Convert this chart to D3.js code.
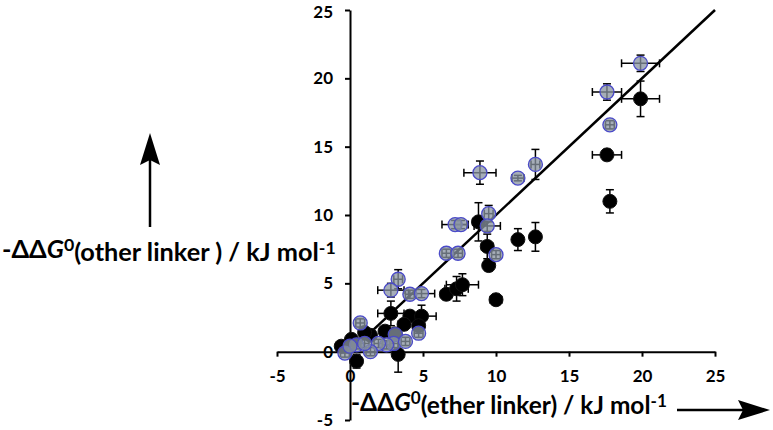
<!DOCTYPE html>
<html>
<head>
<meta charset="utf-8">
<script src="https://cdn.jsdelivr.net/npm/d3@7"></script>
<style>
  body { margin: 0; background: #fff; }
  text { font-family: Lato, "Open Sans", sans-serif; font-weight: bold; fill: #000; }
</style>
</head>
<body>
<svg id="plot" width="773" height="430"></svg>
<script>
// tick values shared by both axes
var ticks = [-5, 0, 5, 10, 15, 20, 25]

// black series: -ddG(ether) vs -ddG(other), with error bars
var blackX    = [19.9, 17.6, 17.8, 11.5, 12.7, 8.8, 9.4, 9.5, 6.6, 7.3, 7.7, 10.0, 2.8, 4.1, 4.9, 3.7, 4.7, 2.4, 1.4, 3.1, 3.3, 0.45, -0.6, 0.1, 1.0]
var blackY    = [18.5, 14.4, 11.0, 8.2, 8.4, 9.5, 7.7, 6.3, 4.2, 4.6, 4.9, 3.8, 2.8, 2.6, 2.6, 2.0, 1.9, 1.5, 1.2, 1.3, -0.2, -0.7, 0.4, 0.9, 1.4]
var blackXErr = [1.3, 1.0, 0.3, 0.3, 0.3, 0.4, 0.4, 0.3, 0.4, 0.8, 1.1, 0.4, 0.9, 0.4, 1.0, 0.4, 0.4, 0.3, 0.3, 0.3, 0.3, 0.3, 0.3, 0.3, 0.3]
var blackYErr = [1.3, 0.4, 0.85, 0.8, 1.05, 1.4, 0.9, 0.4, 0.4, 0.9, 0.8, 0.4, 0.9, 0.4, 0.8, 0.4, 0.4, 0.3, 0.3, 0.3, 1.3, 0.5, 0.3, 0.3, 0.3]

// grey series
var greyX    = [19.9, 17.6, 17.8, 12.7, 11.5, 8.9, 9.5, 9.4, 7.2, 7.6, 6.6, 7.4, 10.0, 3.3, 2.8, 4.1, 4.9, 0.7, 4.7, 3.1, 3.0, 3.8, 2.5, 1.95, 0.45, 1.4, -0.35, 0.0, 1.0]
var greyY    = [21.1, 19.0, 16.6, 13.7, 12.7, 13.1, 10.1, 9.2, 9.3, 9.3, 7.2, 7.2, 7.1, 5.3, 4.5, 4.2, 4.25, 2.1, 1.35, 1.25, 0.6, 0.75, 0.5, 0.6, 0.5, 0.0, -0.1, 0.4, 0.6]
var greyXErr = [1.3, 1.0, 0.3, 0.3, 0.4, 1.1, 0.3, 0.9, 0.9, 0.4, 0.3, 0.3, 0.3, 0.3, 0.9, 0.3, 0.9, 0.3, 0.3, 0.3, 0.3, 0.3, 0.3, 0.3, 0.3, 0.3, 0.3, 0.3, 0.3]
var greyYErr = [0.6, 0.6, 0.3, 1.1, 0.2, 0.85, 0.6, 0.4, 0.3, 0.3, 0.3, 0.3, 0.3, 0.7, 0.5, 0.3, 0.3, 0.3, 0.3, 0.3, 0.3, 0.3, 0.3, 0.3, 0.3, 0.3, 0.3, 0.3, 0.3]

var
  svg = d3.select('#plot'),
  x = d3.scaleLinear().domain([-5, 25]).range([277, 715]),
  y = d3.scaleLinear().domain([-5, 25]).range([420, 10]),
  cap = 4,
  r = 7

function rows(xs, ys, xe, ye) {
  return xs.map(function(d, i) { return {x: d, y: ys[i], xe: xe[i], ye: ye[i]} })
}

var blackPts = rows(blackX, blackY, blackXErr, blackYErr)
var greyPts = rows(greyX, greyY, greyXErr, greyYErr)

// axes (plain hyphen for negatives, like the original)
var yAxis = svg.append('g')
  .attr('transform', 'translate(' + x(0) + ',0)')
  .call(d3.axisLeft(y).tickValues(ticks).tickFormat(String).tickSizeInner(5).tickSizeOuter(0).tickPadding(12))
var xAxis = svg.append('g')
  .attr('transform', 'translate(0,' + y(0) + ')')
  .call(d3.axisBottom(x).tickValues(ticks).tickFormat(String).tickSizeInner(5).tickSizeOuter(0).tickPadding(13))

svg.selectAll('.domain, .tick line').attr('stroke', '#000').attr('stroke-width', 2)
svg.selectAll('.tick text').style('font-size', '17px').attr('fill', '#000')
// keep the top label inside the picture
yAxis.selectAll('.tick text').filter(function(d) { return d === 25 }).attr('dy', '0.42em')

// y = x line
svg.append('line')
  .attr('x1', x(0)).attr('y1', y(0))
  .attr('x2', x(25)).attr('y2', y(25))
  .attr('stroke', '#000').attr('stroke-width', 2.5)

function errorBars(g, pts) {
  var eb = g.selectAll('g.eb').data(pts).enter().append('g').attr('class', 'eb')
    .attr('stroke', '#000').attr('stroke-width', 1.5)
  eb.append('line')
    .attr('x1', function(d) { return x(d.x - d.xe) }).attr('x2', function(d) { return x(d.x + d.xe) })
    .attr('y1', function(d) { return y(d.y) }).attr('y2', function(d) { return y(d.y) })
  eb.append('line')
    .attr('x1', function(d) { return x(d.x) }).attr('x2', function(d) { return x(d.x) })
    .attr('y1', function(d) { return y(d.y - d.ye) }).attr('y2', function(d) { return y(d.y + d.ye) })
  // caps
  ;[-1, 1].forEach(function(s) {
    eb.append('line')
      .attr('x1', function(d) { return x(d.x + s * d.xe) }).attr('x2', function(d) { return x(d.x + s * d.xe) })
      .attr('y1', function(d) { return y(d.y) - cap }).attr('y2', function(d) { return y(d.y) + cap })
    eb.append('line')
      .attr('x1', function(d) { return x(d.x) - cap }).attr('x2', function(d) { return x(d.x) + cap })
      .attr('y1', function(d) { return y(d.y + s * d.ye) }).attr('y2', function(d) { return y(d.y + s * d.ye) })
  })
}

var blackG = svg.append('g')
errorBars(blackG, blackPts)
blackG.selectAll('circle').data(blackPts).enter().append('circle')
  .attr('cx', function(d) { return x(d.x) }).attr('cy', function(d) { return y(d.y) })
  .attr('r', r).attr('fill', '#000').attr('stroke', '#111').attr('stroke-width', 1)

var greyG = svg.append('g')
errorBars(greyG, greyPts)
greyG.selectAll('circle').data(greyPts).enter().append('circle')
  .attr('cx', function(d) { return x(d.x) }).attr('cy', function(d) { return y(d.y) })
  .attr('r', r).attr('fill', '#8893a0').attr('fill-opacity', 0.75)
  .attr('stroke', '#4a4ac8').attr('stroke-width', 1.3)

// axis titles with super scripts
function title(tx, ty, pre, width) {
  var t = svg.append('text').attr('x', tx).attr('y', ty).style('font-size', '20px')
  t.append('tspan').text('-\u0394\u0394')
  t.append('tspan').style('font-style', 'italic').text('G')
  t.append('tspan').attr('dy', '-0.4em').style('font-size', '0.7em').text('0')
  t.append('tspan').attr('dy', '0.4em').text(pre + ' / kJ mol')
  t.append('tspan').attr('dy', '-0.4em').style('font-size', '0.7em').text('-1')
  var w = t.node().getComputedTextLength()
  t.style('font-size', (20 * width / w) + 'px')
  return t
}
title(2, 258, '(other linker )', 334)
title(351, 411, '(ether linker)', 316)

// arrows
function arrow(x1, y1, x2, y2) {
  var a = Math.atan2(y2 - y1, x2 - x1), L = 32, H = 10, back = 5
  svg.append('line').attr('x1', x1).attr('y1', y1)
    .attr('x2', x2 - L * Math.cos(a) * 0.8).attr('y2', y2 - L * Math.sin(a) * 0.8)
    .attr('stroke', '#000').attr('stroke-width', 2.5)
  var c = Math.cos(a), s = Math.sin(a)
  var pts = [
    [x2, y2],
    [x2 - L * c + H * s, y2 - L * s - H * c],
    [x2 - (L - back) * c, y2 - (L - back) * s],
    [x2 - L * c - H * s, y2 - L * s + H * c]
  ]
  svg.append('polygon').attr('points', pts.map(function(p) { return p.join(',') }).join(' ')).attr('fill', '#000')
}
arrow(150, 227, 150, 133)
arrow(677, 410, 770, 410)
</script>
</body>
</html>
